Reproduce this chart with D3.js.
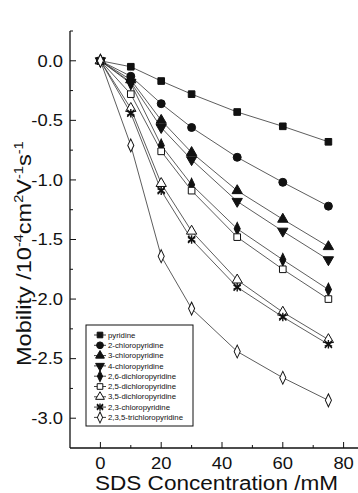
<!DOCTYPE html>
<html>
<head>
<meta charset="utf-8">
<script src="https://cdn.jsdelivr.net/npm/d3@7"></script>
<style>
  body { margin: 0; background: #fff; }
  text { font-family: "Liberation Sans", Arial, sans-serif; fill: #111; }
</style>
</head>
<body>
<div id="chart"></div>
<script>
let w = 358
let h = 493

// SDS concentration (mM)
let conc = [0, 10, 20, 30, 45, 60, 75]

let names = ["pyridine", "2-chloropyridine", "3-chloropyridine", "4-chloropyridine",
  "2,6-dichloropyridine", "2,5-dichloropyridine", "3,5-dichloropyridine",
  "2,3-chloropyridine", "2,3,5-trichloropyridine"]

let pyridine      = [0, -0.05, -0.17, -0.28, -0.43, -0.55, -0.68]
let chloro2       = [0, -0.13, -0.36, -0.56, -0.81, -1.02, -1.22]
let chloro3       = [0, -0.16, -0.50, -0.77, -1.09, -1.33, -1.56]
let chloro4       = [0, -0.18, -0.56, -0.83, -1.18, -1.43, -1.67]
let dichloro26    = [0, -0.19, -0.71, -1.04, -1.41, -1.67, -1.92]
let dichloro25    = [0, -0.28, -0.76, -1.09, -1.48, -1.75, -2.00]
let dichloro35    = [0, -0.40, -1.03, -1.43, -1.84, -2.11, -2.34]
let chloro23      = [0, -0.44, -1.09, -1.50, -1.90, -2.15, -2.38]
let trichloro235  = [0, -0.71, -1.64, -2.08, -2.44, -2.66, -2.85]

let seriesVals = [pyridine, chloro2, chloro3, chloro4, dichloro26, dichloro25, dichloro35, chloro23, trichloro235]
let markers = ["square", "circle", "triangle", "triangleDown", "diamond", "square", "triangle", "star", "diamond"]
let filled = [true, true, true, true, true, false, false, true, false]

let xTicks = [0, 20, 40, 60, 80]
let xMinor = [10, 30, 50, 70]
let yTicks = [0, -0.5, -1.0, -1.5, -2.0, -2.5, -3.0]
let yMinor = [0.25, -0.25, -0.75, -1.25, -1.75, -2.25, -2.75]

let svg = d3.select("#chart")
  .append("svg")
  .attr("width", w)
  .attr("height", h)

let x = d3.scaleLinear().domain([-10, 85]).range([70, 358.8])
let y = d3.scaleLinear().domain([0.25, -3.25]).range([31, 448])

// axes with inward ticks
let axisG = svg.append("g").attr("stroke", "#111").attr("fill", "none")
axisG.append("line").attr("x1", x(-10)).attr("x2", x(85)).attr("y1", y(-3.25)).attr("y2", y(-3.25)).attr("stroke-width", 1.3)
axisG.append("line").attr("x1", x(-10)).attr("x2", x(-10)).attr("y1", y(0.25)).attr("y2", y(-3.25)).attr("stroke-width", 1.3)

axisG.selectAll(".xt").data(xTicks).join("line")
  .attr("x1", d => x(d)).attr("x2", d => x(d))
  .attr("y1", y(-3.25)).attr("y2", y(-3.25) - 6).attr("stroke-width", 1)
axisG.selectAll(".xm").data(xMinor).join("line")
  .attr("x1", d => x(d)).attr("x2", d => x(d))
  .attr("y1", y(-3.25)).attr("y2", y(-3.25) - 3).attr("stroke-width", 1)
axisG.selectAll(".yt").data(yTicks).join("line")
  .attr("x1", x(-10)).attr("x2", x(-10) + 6)
  .attr("y1", d => y(d)).attr("y2", d => y(d)).attr("stroke-width", 1)
axisG.selectAll(".ym").data(yMinor).join("line")
  .attr("x1", x(-10)).attr("x2", x(-10) + 3)
  .attr("y1", d => y(d)).attr("y2", d => y(d)).attr("stroke-width", 1)

// tick labels, slightly stretched horizontally like the source
svg.selectAll(".xl").data(xTicks).join("text")
  .attr("transform", d => `translate(${x(d)},469) scale(1.15,1)`)
  .attr("text-anchor", "middle")
  .attr("font-size", 16)
  .text(d => d)

svg.selectAll(".yl").data(yTicks).join("text")
  .attr("transform", d => `translate(63,${y(d) + 5.8}) scale(1.15,1)`)
  .attr("text-anchor", "end")
  .attr("font-size", 16)
  .text(d => d3.format(".1f")(d).replace("−", "-"))

svg.append("text")
  .attr("x", 95).attr("y", 490)
  .attr("font-size", 19.5)
  .attr("textLength", 243)
  .attr("lengthAdjust", "spacingAndGlyphs")
  .text("SDS Concentration /mM")

let yl = svg.append("text")
  .attr("transform", "translate(31,366) rotate(-90) scale(1.12,1)")
  .attr("font-size", 21)
yl.append("tspan").text("Mobility /10")
yl.append("tspan").attr("font-size", 13).attr("dy", -8).text("-4")
yl.append("tspan").attr("dy", 8).text("cm")
yl.append("tspan").attr("font-size", 13).attr("dy", -8).text("2")
yl.append("tspan").attr("dy", 8).text("V")
yl.append("tspan").attr("font-size", 13).attr("dy", -8).text("-1")
yl.append("tspan").attr("dy", 8).text("s")
yl.append("tspan").attr("font-size", 13).attr("dy", -8).text("-1")

let symType = {
  square: d3.symbolSquare, circle: d3.symbolCircle, triangle: d3.symbolTriangle,
  triangleDown: d3.symbolTriangle, diamond: d3.symbolDiamond, star: d3.symbolAsterisk
}
let symSize = { square: 44, circle: 50, triangle: 46, triangleDown: 46, diamond: 40, star: 50 }

let drawMarker = (g, i, cx, cy, scale) => {
  let m = markers[i]
  let s = symSize[m] * scale * scale
  let p = g.append("path")
    .attr("d", d3.symbol().type(symType[m]).size(s)())
    .attr("transform", `translate(${cx},${cy})` + (m === "triangleDown" ? " rotate(180)" : "") + (m === "diamond" ? " scale(0.9,1.1)" : ""))
    .attr("stroke", "#111")
    .attr("stroke-width", 1)
    .attr("fill", filled[i] ? "#111" : "#fff")
  if (m === "star") {
    p.attr("stroke-width", 1.4)
    g.append("path")
      .attr("d", d3.symbol().type(d3.symbolTimes).size(s * 0.7)())
      .attr("transform", `translate(${cx},${cy})`)
      .attr("stroke", "#111").attr("stroke-width", 1.4)
  }
}

let line = d3.line().x((d, j) => x(conc[j])).y(d => y(d))

seriesVals.forEach((vals, i) => {
  svg.append("path")
    .datum(vals)
    .attr("d", line)
    .attr("fill", "none")
    .attr("stroke", "#333")
    .attr("stroke-width", 0.8)
})
seriesVals.forEach((vals, i) => {
  let g = svg.append("g")
  vals.forEach((v, j) => drawMarker(g, i, x(conc[j]), y(v), 1))
})

// legend
let lg = svg.append("g")
lg.append("rect")
  .attr("x", 86).attr("y", 325).attr("width", 107).attr("height", 101)
  .attr("fill", "#fff").attr("stroke", "#111").attr("stroke-width", 1)
names.forEach((n, i) => {
  let ly = 335 + i * 10.3
  lg.append("line").attr("x1", 94).attr("x2", 106).attr("y1", ly).attr("y2", ly)
    .attr("stroke", "#111").attr("stroke-width", 0.8)
  drawMarker(lg, i, 100, ly, 0.85)
  lg.append("text").attr("x", 108).attr("y", ly + 2.6)
    .attr("font-size", 7.8).text(n)
})
</script>
</body>
</html>
